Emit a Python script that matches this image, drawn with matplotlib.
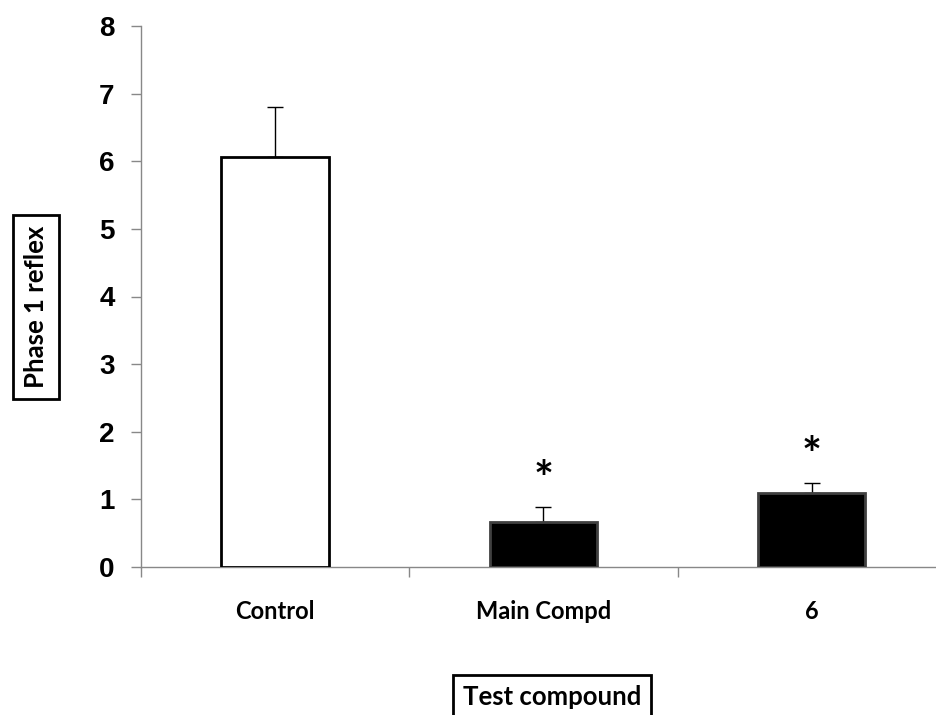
import matplotlib
matplotlib.use("Agg")
import matplotlib.pyplot as plt

categories = ["Control", "Main Compd", "6"]
values = [6.07, 0.66, 1.09]
errors = [0.73, 0.23, 0.15]
significant = [False, True, True]
bar_colors = ["white", "black", "black"]
edge_colors = ["black", "#404040", "#404040"]
yticks = [0, 1, 2, 3, 4, 5, 6, 7, 8]

fig = plt.figure(figsize=(9.37, 7.15), dpi=100)
ax = fig.add_axes([141/937, 148/715, (946-141)/937, (567-26)/715])

x = list(range(len(categories)))
ax.bar(x, values, width=0.4, color=bar_colors, edgecolor=edge_colors, linewidth=2, zorder=3)
ax.errorbar(x, values, yerr=[[0]*len(values), errors], fmt="none", ecolor="black",
            elinewidth=1, capsize=6, capthick=1, zorder=2)

for xi, v, e, s in zip(x, values, errors, significant):
    if s:
        ax.text(xi, v + e + 0.38, "*", ha="center", va="center", fontsize=34,
                fontweight="bold", family="Lato", color="black")

ax.set_xlim(-0.5, 2.5)
ax.set_ylim(0, 8)
ax.set_yticks(yticks)
ax.set_yticklabels([str(t) for t in yticks], fontsize=20, fontweight="bold",
                   family="Liberation Sans")
ax.tick_params(axis="y", direction="out", length=7, width=1, color="#888888", pad=12)

ax.set_xticks([-0.5, 0.5, 1.5, 2.5])
ax.set_xticklabels([])
ax.tick_params(axis="x", direction="out", length=7, width=1, color="#888888")
for xi, c in zip(x, categories):
    ax.text(xi, -0.66, c, ha="center", va="center", fontsize=17, fontweight="bold",
            family="Lato", transform=ax.transData, clip_on=False)

for sp in ["top", "right"]:
    ax.spines[sp].set_visible(False)
for sp in ["left", "bottom"]:
    ax.spines[sp].set_color("#888888")
    ax.spines[sp].set_linewidth(1)

box = dict(boxstyle="square,pad=0.42", facecolor="white", edgecolor="black", linewidth=2)
fig.text(36/937, 1 - 307/715, "Phase 1 reflex", rotation=90, ha="center", va="center",
         fontsize=18.5, fontweight="bold", family="Lato", bbox=box)
fig.text(552/937, 1 - 697/715, "Test compound", ha="center", va="center",
         fontsize=18.5, fontweight="bold", family="Lato",
         bbox=dict(boxstyle="square,pad=0.4", facecolor="white", edgecolor="black", linewidth=2))

fig.savefig("out.png", dpi=100)
